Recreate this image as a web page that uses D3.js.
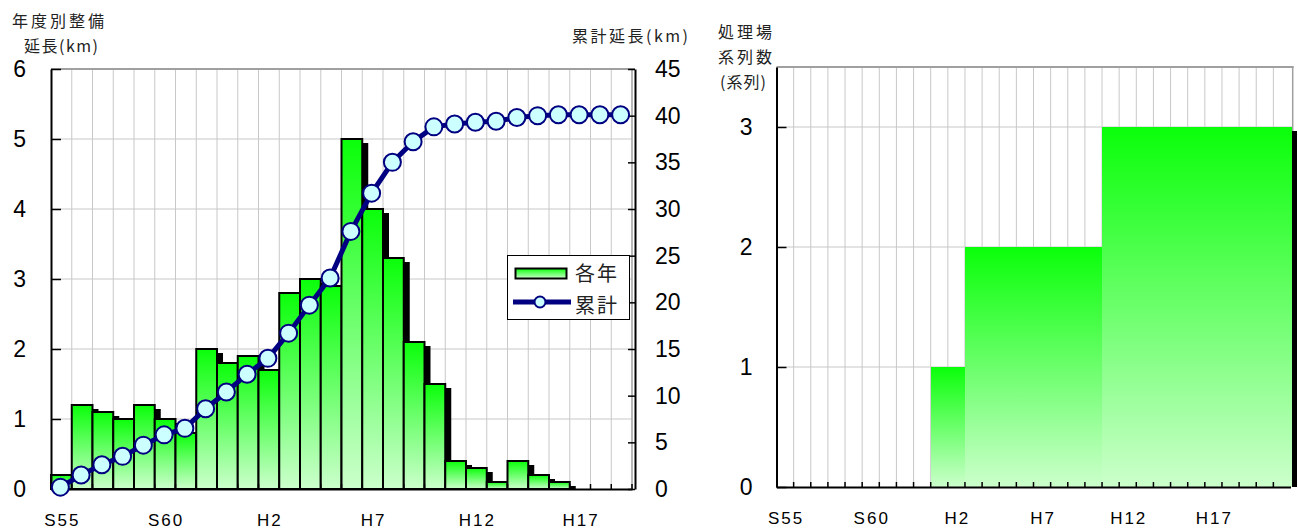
<!DOCTYPE html>
<html>
<head>
<meta charset="utf-8">
<script src="https://cdn.jsdelivr.net/npm/d3@7"></script>
<style>
  body { margin: 0; background: #fff; }
  svg { display: block; }
  .num { font-family: "Liberation Sans", Arial, sans-serif; fill: #000; }
  .jp { font-family: "Noto Sans CJK JP", sans-serif; fill: #222; }
</style>
</head>
<body>
<svg id="chart" width="1298" height="531"></svg>
<script>
// Fiscal years, Showa 55 through Heisei 21
const years = ["S55","S56","S57","S58","S59","S60","S61","S62","S63",
  "H1","H2","H3","H4","H5","H6","H7","H8","H9","H10","H11","H12",
  "H13","H14","H15","H16","H17","H18","H19","H20","H21"];
const yearsLength = years.slice(0, 28);
const tickYears = ["S55","S60","H2","H7","H12","H17"];

// Sewer length built each year (km)
const annualLength = [0.2,1.2,1.1,1.0,1.2,1.0,0.8,2.0,1.8,1.9,1.7,2.8,3.0,2.9,
  5.0,4.0,3.3,2.1,1.5,0.4,0.3,0.1,0.4,0.2,0.1,0,0,0];
// Cumulative length (km)
const cumulativeLength = [0.2,1.5,2.6,3.5,4.7,5.8,6.5,8.6,10.4,12.3,14.0,16.7,19.7,22.6,
  27.6,31.7,35.0,37.2,38.8,39.1,39.3,39.4,39.8,40.0,40.1,40.1,40.1,40.1];
// Number of treatment plant trains in service
const plantSeries = [0,0,0,0,0,0,0,0,0,1,1,2,2,2,2,2,2,2,2,3,3,3,3,3,3,3,3,3,3,3];

const leftTicks = [0,1,2,3,4,5,6];
const rightTicks = [0,5,10,15,20,25,30,35,40,45];
const seriesTicks = [0,1,2,3];
const legendLabels = ["各年","累計"];

const svg = d3.select("#chart");
const defs = svg.append("defs");
const grad = defs.append("linearGradient").attr("id","barGrad")
  .attr("x1",0).attr("y1",0).attr("x2",0).attr("y2",1);
grad.append("stop").attr("offset","0%").attr("stop-color","#0aff0a");
grad.append("stop").attr("offset","100%").attr("stop-color","#ccffcc");

const GRID = "#c8c8c8", BORDER = "#a0a0a0", NAVY = "#000080";
const intFmt = d3.format("d");

/* ---------- left chart: annual and cumulative length ---------- */
const L = { left: 51, right: 632, top: 69, bottom: 489, axisR: 635 };
const xL = d3.scaleBand().domain(yearsLength).range([L.left, L.right]).padding(0);
const yL = d3.scaleLinear().domain([0, 6]).range([L.bottom, L.top]);
const yR = d3.scaleLinear().domain([0, 45]).range([L.bottom, L.top]);
const bwL = xL.bandwidth();

const gL = svg.append("g");
// grid
gL.selectAll("line.vg").data(yearsLength.slice(1)).join("line")
  .attr("x1", d => xL(d)).attr("x2", d => xL(d))
  .attr("y1", L.top).attr("y2", L.bottom)
  .attr("stroke", GRID).attr("stroke-width", 1);
gL.selectAll("line.hg").data(leftTicks.slice(1, -1)).join("line")
  .attr("x1", L.left).attr("x2", L.right)
  .attr("y1", d => yL(d)).attr("y2", d => yL(d))
  .attr("stroke", GRID).attr("stroke-width", 1);
gL.append("line").attr("x1", L.left).attr("x2", L.axisR).attr("y1", L.top).attr("y2", L.top)
  .attr("stroke", BORDER).attr("stroke-width", 2);
gL.append("line").attr("x1", L.right).attr("x2", L.right).attr("y1", L.top).attr("y2", L.bottom)
  .attr("stroke", BORDER).attr("stroke-width", 1.5);

const lenData = yearsLength.map((y, i) => ({ year: y, v: annualLength[i], c: cumulativeLength[i] }));
// bar shadows
gL.selectAll("rect.sh").data(lenData.filter(d => d.v > 0)).join("rect")
  .attr("x", d => xL(d.year) + 6).attr("y", d => yL(d.v) + 4)
  .attr("width", bwL).attr("height", d => Math.max(0, yL(0) - yL(d.v) - 4))
  .attr("fill", "#000");
// bars
gL.selectAll("rect.bar").data(lenData.filter(d => d.v > 0)).join("rect")
  .attr("x", d => xL(d.year)).attr("y", d => yL(d.v))
  .attr("width", bwL).attr("height", d => yL(0) - yL(d.v))
  .attr("fill", "url(#barGrad)").attr("stroke", "#000").attr("stroke-width", 2);

// axes
const axL = gL.append("g").attr("transform", `translate(${L.left},0)`)
  .call(d3.axisLeft(yL).tickValues(leftTicks).tickFormat(intFmt)
    .tickSizeInner(-10).tickSizeOuter(0).tickPadding(25));
const axR = gL.append("g").attr("transform", `translate(${L.axisR},0)`)
  .call(d3.axisRight(yR).tickValues(rightTicks).tickFormat(intFmt)
    .tickSizeInner(-7).tickSizeOuter(0).tickPadding(20));
const axB = gL.append("g").attr("transform", `translate(0,${L.bottom})`)
  .call(d3.axisBottom(xL).tickSizeInner(0).tickSizeOuter(0).tickPadding(25)
    .tickFormat(d => tickYears.includes(d) ? d : ""));
[axL, axR].forEach(a => {
  a.select(".domain").attr("stroke", "#000").attr("stroke-width", 2);
  a.selectAll(".tick line").attr("stroke", "#000").attr("stroke-width", 1.5);
  a.selectAll("text").attr("class", "num").attr("font-size", 23).attr("fill", "#000");
});
axB.select(".domain").attr("stroke", "#000").attr("stroke-width", 2);
axB.selectAll("text").attr("class", "num").attr("font-size", 17).attr("letter-spacing", 2)
  .attr("dx", 1).attr("fill", "#000");
gL.selectAll("line.bt").data(yearsLength.slice(1).concat(["end"])).join("line")
  .attr("x1", d => d === "end" ? L.right : xL(d)).attr("x2", d => d === "end" ? L.right : xL(d))
  .attr("y1", L.bottom).attr("y2", L.bottom - 5)
  .attr("stroke", "#000").attr("stroke-width", 1.5);

// cumulative line
const line = d3.line().x(d => xL(d.year) + bwL / 2 - 1).y(d => yR(d.c));
gL.append("path").datum(lenData).attr("d", line)
  .attr("fill", "none").attr("stroke", NAVY).attr("stroke-width", 5).attr("stroke-linejoin", "round");
gL.selectAll("circle.pt").data(lenData).join("circle")
  .attr("cx", d => xL(d.year) + bwL / 2 - 1).attr("cy", d => yR(d.c)).attr("r", 8.5)
  .attr("fill", "#ccffff").attr("stroke", NAVY).attr("stroke-width", 2);

// legend
const lg = gL.append("g");
lg.append("rect").attr("x", 507.5).attr("y", 255.5).attr("width", 122).attr("height", 64)
  .attr("fill", "#fff").attr("stroke", "#000").attr("stroke-width", 1);
lg.append("rect").attr("x", 515.5).attr("y", 268.5).attr("width", 51).attr("height", 10)
  .attr("fill", "url(#barGrad)").attr("stroke", "#000").attr("stroke-width", 2);
lg.append("line").attr("x1", 513).attr("x2", 571).attr("y1", 302).attr("y2", 302)
  .attr("stroke", NAVY).attr("stroke-width", 5);
lg.append("circle").attr("cx", 540).attr("cy", 302).attr("r", 5.5)
  .attr("fill", "#ccffff").attr("stroke", NAVY).attr("stroke-width", 2);
lg.selectAll("text").data(legendLabels).join("text")
  .attr("class", "jp").attr("x", 575).attr("y", (d, i) => 281 + i * 32)
  .attr("font-size", 20).attr("letter-spacing", 2).attr("fill", "#000").text(d => d);

// axis titles
svg.append("text").attr("class", "jp").attr("x", 12).attr("y", 27)
  .attr("font-size", 16).attr("letter-spacing", 3).text("年度別整備");
svg.append("text").attr("class", "jp").attr("x", 24).attr("y", 52)
  .attr("font-size", 16).attr("letter-spacing", 1.5).text("延長(km)");
svg.append("text").attr("class", "jp").attr("x", 572).attr("y", 42)
  .attr("font-size", 16).attr("letter-spacing", 2.5).text("累計延長(km)");

/* ---------- right chart: number of plant trains ---------- */
const R = { left: 776.5, right: 1290.5, border: 1292.7, top: 67, bottom: 487 };
const xS = d3.scaleBand().domain(years).range([R.left, R.right]).padding(0);
const yS = d3.scaleLinear().domain([0, 3.5]).range([R.bottom, R.top]);
const bwS = xS.bandwidth();
const gR = svg.append("g");

gR.selectAll("line.vg").data(years.slice(1)).join("line")
  .attr("x1", d => xS(d)).attr("x2", d => xS(d))
  .attr("y1", R.top).attr("y2", R.bottom)
  .attr("stroke", GRID).attr("stroke-width", 1);
gR.selectAll("line.hg").data(seriesTicks.slice(1)).join("line")
  .attr("x1", R.left).attr("x2", R.border)
  .attr("y1", d => yS(d)).attr("y2", d => yS(d))
  .attr("stroke", GRID).attr("stroke-width", 1);
gR.append("line").attr("x1", R.left).attr("x2", R.border + 1).attr("y1", R.top).attr("y2", R.top)
  .attr("stroke", BORDER).attr("stroke-width", 2);
gR.append("line").attr("x1", R.border).attr("x2", R.border).attr("y1", R.top).attr("y2", R.bottom)
  .attr("stroke", BORDER).attr("stroke-width", 1.5);

const plantData = years.map((y, i) => ({ year: y, v: plantSeries[i] })).filter(d => d.v > 0);
gR.selectAll("rect.sh").data(plantData).join("rect")
  .attr("x", d => xS(d.year) + 6).attr("y", d => yS(d.v) + 4)
  .attr("width", bwS).attr("height", d => yS(0) - yS(d.v) - 4)
  .attr("fill", "#000").attr("shape-rendering", "crispEdges");
gR.selectAll("rect.bar").data(plantData).join("rect")
  .attr("x", d => xS(d.year)).attr("y", d => yS(d.v))
  .attr("width", bwS + 1.2).attr("height", d => yS(0) - yS(d.v))
  .attr("fill", "url(#barGrad)").attr("shape-rendering", "crispEdges");

const axS = gR.append("g").attr("transform", `translate(${R.left},0)`)
  .call(d3.axisLeft(yS).tickValues(seriesTicks).tickFormat(intFmt)
    .tickSizeInner(-10).tickSizeOuter(0).tickPadding(24));
axS.select(".domain").attr("stroke", "#000").attr("stroke-width", 2);
axS.selectAll(".tick line").attr("stroke", "#000").attr("stroke-width", 1.5);
axS.selectAll("text").attr("class", "num").attr("font-size", 23).attr("fill", "#000");
const axSB = gR.append("g").attr("transform", `translate(0,${R.bottom})`)
  .call(d3.axisBottom(xS).tickSizeInner(0).tickSizeOuter(0).tickPadding(25)
    .tickFormat(d => tickYears.includes(d) ? d : ""));
axSB.select(".domain").attr("stroke", "#000").attr("stroke-width", 2);
axSB.selectAll("text").attr("class", "num").attr("font-size", 17).attr("letter-spacing", 2)
  .attr("dx", 1).attr("fill", "#000");
gR.selectAll("line.bt").data(years.slice(1)).join("line")
  .attr("x1", d => xS(d)).attr("x2", d => xS(d))
  .attr("y1", R.bottom).attr("y2", R.bottom - 5)
  .attr("stroke", "#000").attr("stroke-width", 1.5);

svg.append("text").attr("class", "jp").attr("x", 718).attr("y", 38)
  .attr("font-size", 16).attr("letter-spacing", 3).text("処理場");
svg.append("text").attr("class", "jp").attr("x", 718).attr("y", 63)
  .attr("font-size", 16).attr("letter-spacing", 3).text("系列数");
svg.append("text").attr("class", "jp").attr("x", 720).attr("y", 88)
  .attr("font-size", 16).attr("letter-spacing", 1).text("(系列)");
</script>
</body>
</html>
